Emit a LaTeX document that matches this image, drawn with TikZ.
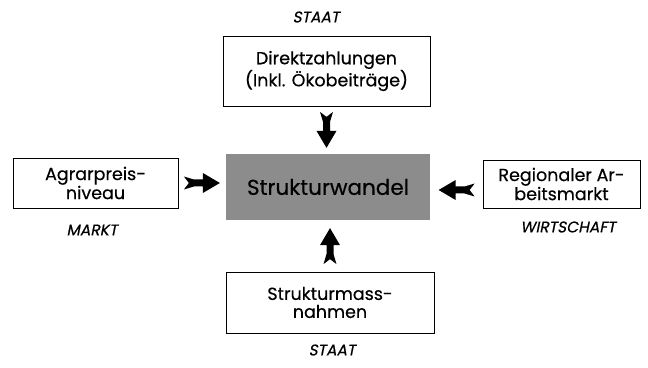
\documentclass[tikz,border=0pt]{standalone}
\usepackage{fontspec}
\setmainfont{Poppins}[FakeBold=0.4]
\newfontfamily\slantfont[FakeSlant=0.2,FakeBold=0.4]{Poppins}
\usetikzlibrary{decorations.markings}
\begin{document}
\begin{tikzpicture}[
        x=1pt, y=1pt,
        factor/.style={rectangle, draw, line width=0.9pt, align=center, inner sep=2pt, font=\fontsize{17.5}{18}\selectfont},
        core/.style={rectangle, draw, fill=black!45, double, double distance=1pt, minimum width=205pt, minimum height=67pt, font=\fontsize{21.5}{24}\selectfont},
        sector/.style={font=\slantfont\fontsize{15.5}{17}\selectfont},
        push/.style={decoration={markings, mark=at position 0.5 with {
            \fill (18pt,0pt) -- (1pt,10pt) -- (1pt,3.5pt) -- (-8pt,3.5pt) -- (-18pt,6.5pt) -- (-13pt,0pt)
                -- (-18pt,-6.5pt) -- (-8pt,-3.5pt) -- (1pt,-3.5pt) -- (1pt,-10pt) -- cycle;}},
            postaction={decorate}}
    ]
        \useasboundingbox (0,0) rectangle (648,367);

        % Centre
        \node[core] (wandel) at (328,180) {Strukturwandel};

        % Influences
        \node[factor, minimum width=207pt, minimum height=70pt] (direkt) at (326.5,296) {Direktzahlungen\\(Inkl. Ökobeiträge)};
        \node[factor, minimum width=165pt, minimum height=50pt] (preis) at (95.5,184) {Agrarpreis-\\niveau};
        \node[factor, minimum width=157pt, minimum height=48pt] (arbeit) at (561.5,183) {Regionaler Ar-\\beitsmarkt};
        \node[factor, minimum width=208pt, minimum height=61pt] (massn) at (330,64.5) {Strukturmass-\\nahmen};

        % Arrows into the centre
        \path[push] (direkt.south) -- (direkt.south |- wandel.north);
        \path[push] (preis.east) -- (preis.east -| wandel.west);
        \path[push] ([yshift=-6pt]arbeit.west) -- ([yshift=-6pt]arbeit.west -| wandel.east);
        \path[push] (massn.north) -- (massn.north |- wandel.south);

        % Sector labels
        \node[sector] (staat1) at (316,350) {STAAT};
        \node[sector] (markt) at (92,137) {MARKT};
        \node[sector] (wirtschaft) at (568,140) {WIRTSCHAFT};
        \node[sector] (staat2) at (332,17) {STAAT};

    \end{tikzpicture}
\end{document}
